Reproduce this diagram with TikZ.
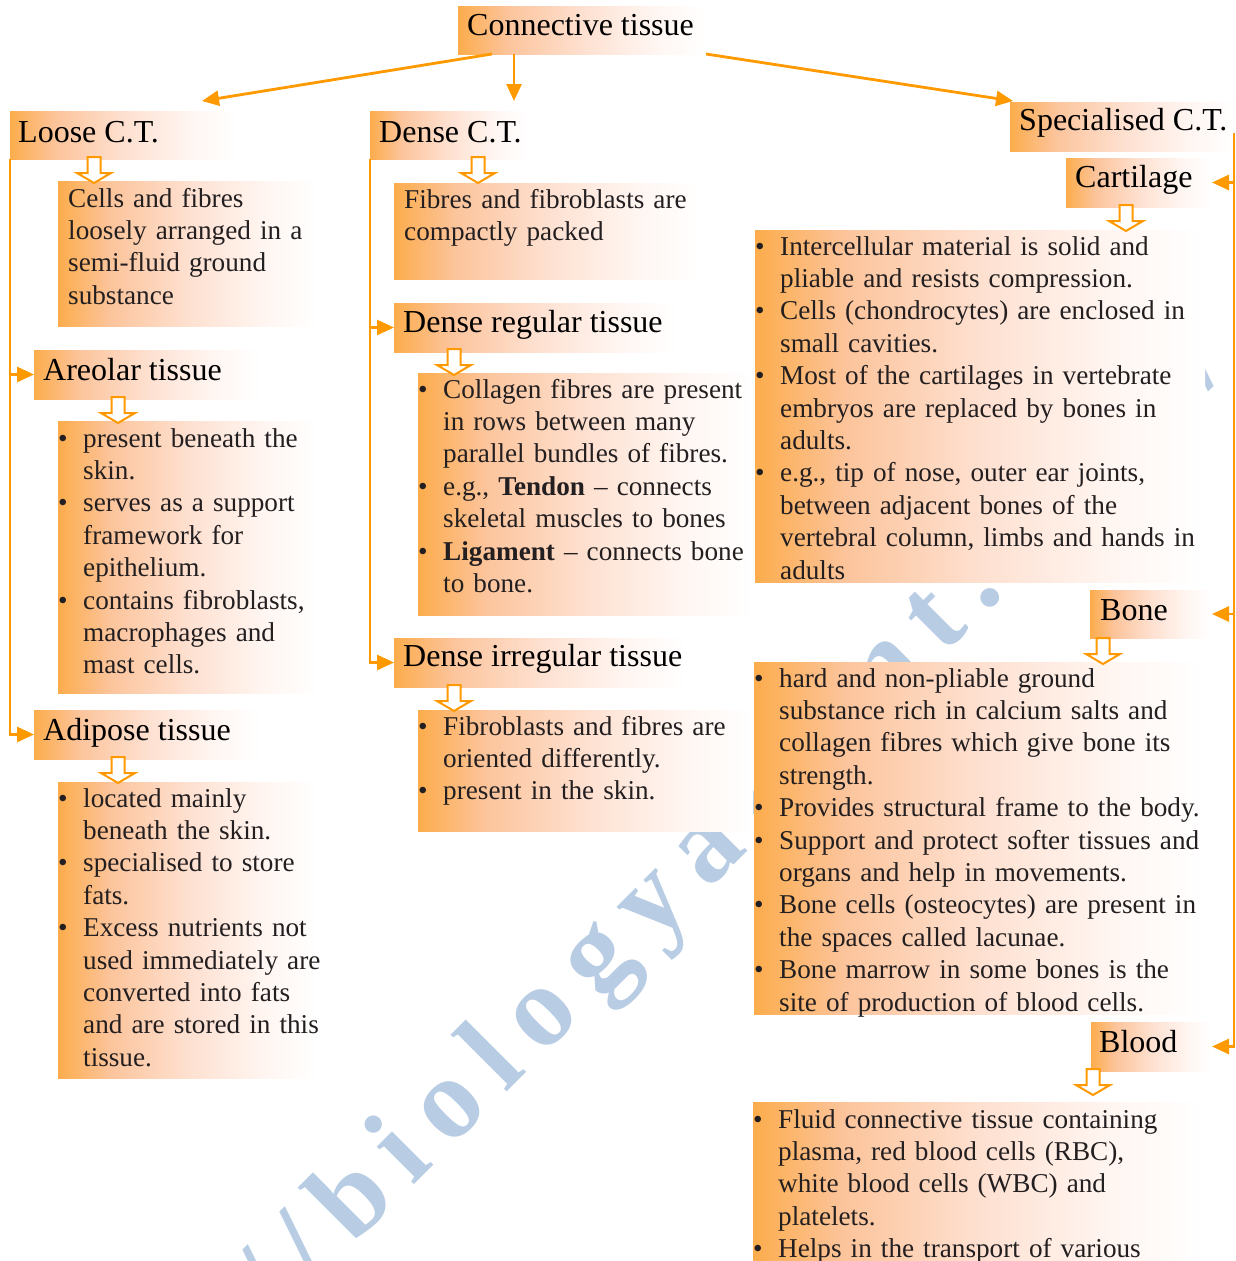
\documentclass[tikz,border=0pt]{standalone}
\usepackage{fontspec}
\setmainfont{Liberation Serif}
\usetikzlibrary{arrows.meta,calc}
\definecolor{orng}{RGB}{255,153,0}
\definecolor{shA}{RGB}{252,172,76}
\definecolor{shB}{RGB}{252,196,155}
\definecolor{shC}{RGB}{254,224,208}
\definecolor{shD}{RGB}{255,246,242}
\definecolor{bodytxt}{RGB}{35,31,32}
\definecolor{wmcol}{RGB}{184,205,228}
\pgfdeclarehorizontalshading{boxshade}{100bp}{color(0bp)=(shA); color(25bp)=(shA); color(35bp)=(shB); color(50bp)=(shC); color(65bp)=(shD); color(75bp)=(white); color(100bp)=(white)}
\newcommand{\itm}[1]{\noindent\hangindent=25pt\hangafter=1\makebox[25pt][l]{\textbullet}#1\par}
\tikzset{hollowarr/.pic={\path[hollow] (-6.5,0) -- (-6.5,16) -- (-17,16) -- (0,26) -- (17,16) -- (6.5,16) -- (6.5,0) -- cycle;}}
\begin{document}
\begin{tikzpicture}[x=1pt,y=-1pt,
  box/.style={shading=boxshade, draw=none, inner sep=0pt, outer sep=0pt, anchor=north west},
  head/.style={anchor=base west, inner sep=0pt, text=black, font=\fontsize{32}{38}\selectfont},
  body/.style={anchor=base west, inner sep=0pt, text=bodytxt, font=\fontsize{27.2}{32.4}\selectfont, text width=480pt, align=left},
  conn/.style={draw=orng, line width=2.8pt, -{Triangle[length=17pt,width=15pt]}},
  hollow/.style={draw=orng, line width=2pt, fill=white, line join=miter},
  wm/.style={text=wmcol, font=\fontsize{115}{120}\selectfont\bfseries\addfontfeature{LetterSpace=18}, inner sep=0pt, rotate=45}
]
\useasboundingbox (0,0) rectangle (1236,1261);
\clip (0,0) rectangle (1236,1261);

% watermark
\node[wm, anchor=base west] (wmb) at (353,1246) {biologyaipmt.com/};
\node[wm, anchor=base east] (wmh) at ([shift={(-15,15)}]wmb.base west) {http://};

% boxes
\node[box, minimum width=247pt, minimum height=48pt] (conn) at (458,6) {};
\node[box, minimum width=227pt, minimum height=48pt] (loose) at (10,111) {};
\node[box, minimum width=157pt, minimum height=48pt] (dense) at (370,111) {};
\node[box, minimum width=226pt, minimum height=49pt] (spec) at (1010,102) {};
\node[box, minimum width=146pt, minimum height=49pt] (cart) at (1066,158) {};
\node[box, minimum width=260pt, minimum height=145pt] (looset) at (58,181) {};
\node[box, minimum width=226pt, minimum height=49pt] (areo) at (34,350) {};
\node[box, minimum width=260pt, minimum height=272pt] (areob) at (58,421) {};
\node[box, minimum width=226pt, minimum height=49pt] (adip) at (34,710) {};
\node[box, minimum width=260pt, minimum height=296pt] (adipb) at (58,782) {};
\node[box, minimum width=306pt, minimum height=96pt] (denset) at (394,183) {};
\node[box, minimum width=283pt, minimum height=49pt] (dreg) at (394,303) {};
\node[box, minimum width=334pt, minimum height=242pt] (dregb) at (418,373) {};
\node[box, minimum width=292pt, minimum height=49pt] (dirr) at (394,638) {};
\node[box, minimum width=335pt, minimum height=121pt] (dirrb) at (418,710) {};
\node[box, minimum width=450pt, minimum height=352pt] (cartb) at (755,230) {};
\node[box, minimum width=122pt, minimum height=48pt] (bone) at (1090,590) {};
\node[box, minimum width=451pt, minimum height=352pt] (boneb) at (754,662) {};
\node[box, minimum width=121pt, minimum height=49pt] (blood) at (1091,1022) {};
\node[box, minimum width=452pt, minimum height=200pt] (bloodb) at (753,1102) {};

% headings
\node[head] (connT) at ([shift={(9,29)}]conn.north west) {Connective tissue};
\node[head] (looseH) at ([shift={(8,31)}]loose.north west) {Loose C.T.};
\node[head] (denseH) at ([shift={(9,31)}]dense.north west) {Dense C.T.};
\node[head] (specH) at ([shift={(9,28)}]spec.north west) {Specialised C.T.};
\node[head] (cartH) at ([shift={(9,29)}]cart.north west) {Cartilage};
\node[head] (areoH) at ([shift={(9,30)}]areo.north west) {Areolar tissue};
\node[head] (adipH) at ([shift={(9,30)}]adip.north west) {Adipose tissue};
\node[head] (dregH) at ([shift={(9,29)}]dreg.north west) {Dense regular tissue};
\node[head] (dirrH) at ([shift={(9,28)}]dirr.north west) {Dense irregular tissue};
\node[head] (boneH) at ([shift={(10,30)}]bone.north west) {Bone};
\node[head] (bloodH) at ([shift={(8,30)}]blood.north west) {Blood};

% body texts
\node[body] (looseTx) at ([shift={(10,26)}]looset.north west) {Cells and fibres\newline loosely arranged in a\newline semi-fluid ground\newline substance};
\node[body] (denseTx) at ([shift={(10,25)}]denset.north west) {Fibres and fibroblasts are\newline compactly packed};
\node[body] (areoTx) at ([shift={(0,26)}]areob.north west) {\itm{present beneath the\newline skin.}\itm{serves as a support\newline framework for\newline epithelium.}\itm{contains fibroblasts,\newline macrophages and\newline mast cells.}};
\node[body] (adipTx) at ([shift={(0,25)}]adipb.north west) {\itm{located mainly\newline beneath the skin.}\itm{specialised to store\newline fats.}\itm{Excess nutrients not\newline used immediately are\newline converted into fats\newline and are stored in this\newline tissue.}};
\node[body] (dregTx) at ([shift={(0,25)}]dregb.north west) {\itm{Collagen fibres are present\newline in rows between many\newline parallel bundles of fibres.}\itm{e.g., \textbf{Tendon} -- connects\newline skeletal muscles to bones}\itm{\textbf{Ligament} -- connects bone\newline to bone.}};
\node[body] (dirrTx) at ([shift={(0,25)}]dirrb.north west) {\itm{Fibroblasts and fibres are\newline oriented differently.}\itm{present in the skin.}};
\node[body] (cartTx) at ([shift={(0,25)}]cartb.north west) {\itm{Intercellular material is solid and\newline pliable and resists compression.}\itm{Cells (chondrocytes) are enclosed in\newline small cavities.}\itm{Most of the cartilages in vertebrate\newline embryos are replaced by bones in\newline adults.}\itm{e.g., tip of nose, outer ear joints,\newline between adjacent bones of the\newline vertebral column, limbs and hands in\newline adults}};
\node[body] (boneTx) at ([shift={(0,25)}]boneb.north west) {\itm{hard and non-pliable ground\newline substance rich in calcium salts and\newline collagen fibres which give bone its\newline strength.}\itm{Provides structural frame to the body.}\itm{Support and protect softer tissues and\newline organs and help in movements.}\itm{Bone cells (osteocytes) are present in\newline the spaces called lacunae.}\itm{Bone marrow in some bones is the\newline site of production of blood cells.}};
\node[body] (bloodTx) at ([shift={(0,26)}]bloodb.north west) {\itm{Fluid connective tissue containing\newline plasma, red blood cells (RBC),\newline white blood cells (WBC) and\newline platelets.}\itm{Helps in the transport of various}};

% connectors
\draw[conn] ([shift={(34,0)}]conn.south west) -- ([shift={(192,-10)}]loose.north west);
\draw[conn] ([shift={(56,0)}]conn.south west) -- ([shift={(144,-10)}]dense.north west);
\draw[conn] ([shift={(1,0)}]conn.south east) -- ([shift={(3,-1)}]spec.north west);

\draw[conn] (loose.south west) |- (areo.west);
\draw[conn] (loose.south west) |- (adip.west);
\draw[conn] (dense.south west) |- (dreg.west);
\draw[conn] (dense.south west) |- (dirr.west);

\coordinate (rtop) at ([shift={(-2,31)}]spec.north east);
\draw[conn] (rtop) |- (cart.east);
\draw[conn] (rtop) |- (bone.east);
\draw[conn] (rtop) |- (blood.east);

% hollow arrows
\pic at ([shift={(84,-2)}]loose.south west) {hollowarr};
\pic at ([shift={(84,-2)}]areo.south west) {hollowarr};
\pic at ([shift={(84,-2)}]adip.south west) {hollowarr};
\pic at ([shift={(108,-2)}]dense.south west) {hollowarr};
\pic at ([shift={(60,-3)}]dreg.south west) {hollowarr};
\pic at ([shift={(60,-2)}]dirr.south west) {hollowarr};
\pic at ([shift={(60,-2)}]cart.south west) {hollowarr};
\pic at ([shift={(13,0)}]bone.south west) {hollowarr};
\pic at ([shift={(2,-2)}]blood.south west) {hollowarr};
\end{tikzpicture}
\end{document}
